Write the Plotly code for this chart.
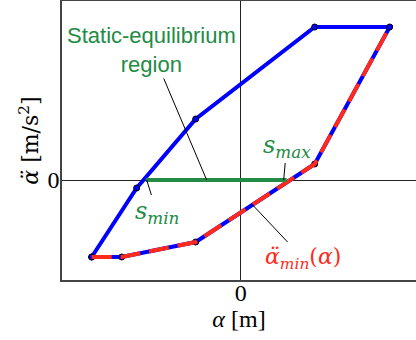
import plotly.graph_objects as go

# polygon vertices of the feasible region (alpha, alpha_ddot), closed
region_x = [-1.49, -1.04, -0.45, 0.74, 1.49, 0.74, -0.45, -1.19, -1.49]
region_y = [-0.77, -0.08, 0.61, 1.53, 1.53, 0.16, -0.62, -0.77, -0.77]

# lower boundary alpha_ddot_min(alpha)
lower_x = [-1.49, -1.19, -0.45, 0.74, 1.49]
lower_y = [-0.77, -0.77, -0.62, 0.16, 1.53]

# static-equilibrium segment on alpha_ddot = 0
static_x = [-0.95, 0.46]
static_y = [0, 0]

BLUE = "#0000ff"
RED = "#ff2a1a"
GREEN = "#228b45"
SERIF = "DejaVu Serif"
SANS = "Liberation Sans"

fig = go.Figure()
fig.add_trace(
    go.Scatter(
        x=region_x,
        y=region_y,
        mode="lines+markers",
        line={"color": BLUE, "width": 4},
        marker={"size": 6, "color": BLUE, "line": {"color": "black", "width": 1}},
    )
)
fig.add_trace(
    go.Scatter(
        x=lower_x,
        y=lower_y,
        mode="lines",
        line={"color": RED, "width": 4, "dash": "20px,9px"},
    )
)
fig.add_trace(
    go.Scatter(
        x=static_x,
        y=static_y,
        mode="lines",
        line={"color": GREEN, "width": 4},
    )
)

leader = {"showarrow": True, "arrowhead": 0, "arrowwidth": 1, "arrowcolor": "black"}
fig.add_annotation(
    x=-0.34, y=0, ax=-55, ay=-130,
    text="Static-equilibrium<br>region",
    font={"family": SANS, "size": 22, "color": GREEN},
    **leader,
)
fig.add_annotation(
    x=0.43, y=0, ax=3, ay=-34,
    text="<i>s</i><sub><i>max</i></sub>",
    font={"family": SERIF, "size": 24, "color": GREEN},
    **leader,
)
fig.add_annotation(
    x=-0.94, y=0, ax=10, ay=32,
    text="<i>s</i><sub><i>min</i></sub>",
    font={"family": SERIF, "size": 24, "color": GREEN},
    **leader,
)
fig.add_annotation(
    x=0.12, y=-0.25, ax=50, ay=53,
    text="<i>α\u0308</i><sub><i>min</i></sub>(<i>α</i>)",
    font={"family": SERIF, "size": 22, "color": RED},
    **leader,
)

axis_common = {
    "tickvals": [0],
    "ticktext": ["0"],
    "ticks": "",
    "showgrid": False,
    "zeroline": True,
    "zerolinecolor": "#222222",
    "zerolinewidth": 1,
    "showline": True,
    "linecolor": "#444444",
    "linewidth": 1.5,
    "automargin": False,
    "tickfont": {"family": "Liberation Serif", "size": 24, "color": "black"},
}
fig.update_xaxes(
    range=[-1.787, 1.753],
    mirror=True,
    ticklabelstandoff=-10,
    title={"text": "<i>α</i> [m]", "font": {"family": "Liberation Serif", "size": 24, "color": "black"}, "standoff": 0},
    **axis_common,
)
fig.update_yaxes(
    range=[-1.0, 1.79],
    ticklabelstandoff=-4,
    title={"text": "<i>α\u0308</i> [m/s<sup>2</sup>]", "font": {"family": SERIF, "size": 22, "color": "black"}, "standoff": 3},
    **axis_common,
)
fig.update_layout(
    width=416,
    height=340,
    margin={"l": 62, "r": 0, "t": 1, "b": 60, "autoexpand": False},
    showlegend=False,
    plot_bgcolor="white",
    paper_bgcolor="white",
)
# drop the default page margin so the figure sits at the window's corner
fig.write_html(
    "out.html",
    config={"displayModeBar": False},
    post_script="document.body.style.margin = '0';",
)
